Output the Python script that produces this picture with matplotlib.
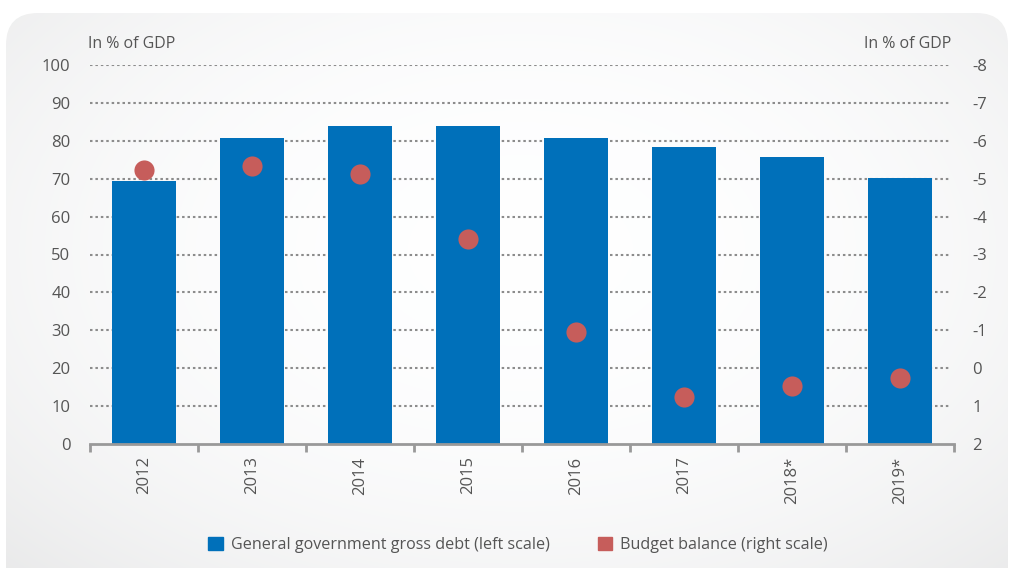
import numpy as np
import matplotlib
matplotlib.use("Agg")
import matplotlib.pyplot as plt
from matplotlib.patches import FancyBboxPatch, Rectangle

plt.rcParams['font.family'] = ['Open Sans', 'DejaVu Sans']

years = ["2012", "2013", "2014", "2015", "2016", "2017", "2018*", "2019*"]
debt = [69.4, 80.7, 83.9, 83.9, 80.7, 78.4, 75.7, 70.2]
balance = [-5.23, -5.34, -5.12, -3.41, -0.96, 0.76, 0.47, 0.26]
left_ticks = [0, 10, 20, 30, 40, 50, 60, 70, 80, 90, 100]
right_ticks = [2, 1, 0, -1, -2, -3, -4, -5, -6, -7, -8]

BLUE = "#0070BA"
RED = "#C65D5B"
TXT = "#555555"

W, H = 1013, 568
fig = plt.figure(figsize=(W / 100, H / 100), dpi=100)

# background panel with soft gradient
bg = fig.add_axes([0, 0, 1, 1])
bg.set_xlim(0, W)
bg.set_ylim(H, 0)
bg.axis("off")
yy, xx = np.mgrid[0:H, 0:W]
d = np.sqrt(((xx - 520) / 640.0) ** 2 + ((yy - 250) / 400.0) ** 2)
val = 1.0 - 0.06 * np.clip(d, 0, 1.3) ** 2.4
img = np.dstack([val * 0.997, val * 0.998, val * 1.0])
img = np.clip(img, 0, 1)
im = bg.imshow(img, extent=(0, W, H, 0), zorder=0)
panel = FancyBboxPatch((6, 13), 1002, 620, boxstyle="round,pad=0,rounding_size=32",
                       facecolor="none", edgecolor="none", transform=bg.transData)
bg.add_patch(panel)
im.set_clip_path(panel)

ax = fig.add_axes([90 / W, 1 - 444 / H, (954 - 90) / W, (444 - 65) / H])
ax.patch.set_alpha(0)
x = np.arange(len(years))
ax.set_xlim(-0.5, len(years) - 0.5)
ax.set_ylim(0, 100)
for t in left_ticks[1:]:
    ax.axhline(t, xmin=0, xmax=0.996, color="#8c8c8c", lw=1.5, ls=(0, (1.2, 1.4)), zorder=1)
ax.bar(x, debt, width=0.6, color=BLUE, zorder=2)

for s in ["top", "left", "right"]:
    ax.spines[s].set_visible(False)
ax.spines["bottom"].set_color("#999999")
ax.spines["bottom"].set_linewidth(2)
ax.set_yticks(left_ticks)
ax.set_yticklabels([str(t) for t in left_ticks], fontsize=12, color=TXT)
ax.tick_params(axis="y", length=0, pad=14)
ax.set_xticks(np.arange(-0.5, len(years)), minor=False)
ax.set_xticklabels([])
ax.set_xticks(x, minor=True)
ax.set_xticklabels(years, minor=True, rotation=90, fontsize=12, color=TXT)
ax.tick_params(axis="x", which="major", length=6, width=2, color="#999999", direction="out")
ax.tick_params(axis="x", which="minor", length=0, pad=9)

ax2 = ax.twinx()
ax2.set_ylim(2, -8)
ax2.patch.set_alpha(0)
for s in ["top", "left", "right", "bottom"]:
    ax2.spines[s].set_visible(False)
ax2.set_yticks(right_ticks)
ax2.set_yticklabels([str(t) for t in right_ticks], fontsize=12, color=TXT)
ax2.tick_params(axis="y", length=0, pad=13)
ax2.plot(x, balance, "o", color=RED, ms=14.5, zorder=3, markeredgewidth=0)

fig.text(88 / W, 1 - 44 / H, "In % of GDP", fontsize=11.5, color=TXT, ha="left", va="center")
fig.text(951 / W, 1 - 44 / H, "In % of GDP", fontsize=11.5, color=TXT, ha="right", va="center")

handles = [Rectangle((0, 0), 1, 1, color=BLUE), Rectangle((0, 0), 1, 1, color=RED)]
leg = fig.legend(handles, ["General government gross debt (left scale)", "Budget balance (right scale)"],
                 loc="center", bbox_to_anchor=(518 / W, 1 - 545 / H), ncol=2, frameon=False,
                 fontsize=11.6, handlelength=0.9, handleheight=0.9, handletextpad=0.5, columnspacing=3.0)
for t in leg.get_texts():
    t.set_color(TXT)

fig.savefig("out.png", dpi=100)
